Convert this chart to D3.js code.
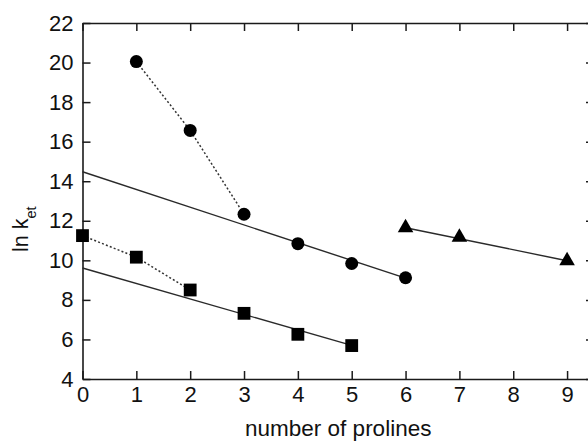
<!DOCTYPE html>
<html>
<head>
<meta charset="utf-8">
<script src="https://cdn.jsdelivr.net/npm/d3@7"></script>
<style>
  html, body { margin: 0; padding: 0; background: #fff; }
  svg { display: block; }
  text { font-family: "Liberation Sans", Arial, Helvetica, sans-serif; fill: #111; }
</style>
</head>
<body>
<svg id="chart" width="588" height="442"></svg>
<script>
// Number of prolines in the bridge vs. ln k_et
const circleX = [1, 2, 3, 4, 5, 6];
const circleY = [20.05, 16.57, 12.33, 10.84, 9.84, 9.12];
const squareX = [0, 1, 2, 3, 4, 5];
const squareY = [11.25, 10.16, 8.5, 7.32, 6.26, 5.69];
const triangleX = [6, 7, 9];
const triangleY = [11.65, 11.17, 9.98];

// Points joined by dotted lines (short bridges)
const circleDottedX = [1, 2, 3];
const squareDottedX = [0, 1, 2];

// Straight-line fits: [x, y] end points
const circleFit = [[0, 14.48], [6, 9.1]];
const squareFit = [[0, 9.61], [5, 5.7]];
const triangleFit = [[6, 11.65], [9, 9.98]];

const xTicks = [0, 1, 2, 3, 4, 5, 6, 7, 8, 9];
const yTicks = [4, 6, 8, 10, 12, 14, 16, 18, 20, 22];

const svg = d3.select("#chart");
const plotL = 82.5, plotR = 594, plotT = 23, plotB = 379;

const x = d3.scaleLinear().domain([0, 9.5]).range([plotL, plotR]);
const y = d3.scaleLinear().domain([4, 22]).range([plotB, plotT]);

const ink = "#1a1a1a";
const tickLen = 8;

// Frame with inward ticks on all four sides
function styleAxis(g) {
  g.selectAll(".domain").attr("stroke", ink).attr("stroke-width", 1.6);
  g.selectAll(".tick line").attr("stroke", ink).attr("stroke-width", 1.5);
  g.selectAll(".tick text")
    .attr("font-family", '"Liberation Sans", Arial, Helvetica, sans-serif')
    .attr("font-size", 22).attr("fill", "#111");
}

svg.append("g").attr("transform", `translate(0,${plotB})`)
  .call(d3.axisBottom(x).tickValues(xTicks).tickFormat(d3.format("d"))
    .tickSizeInner(-tickLen).tickSizeOuter(0))
  .call(styleAxis)
  .call(g => g.selectAll(".tick text").attr("dy", "0.71em").attr("y", 7));

svg.append("g").attr("transform", `translate(0,${plotT})`)
  .call(d3.axisTop(x).tickValues(xTicks).tickFormat("")
    .tickSizeInner(-tickLen).tickSizeOuter(0))
  .call(styleAxis);

svg.append("g").attr("transform", `translate(${plotL},0)`)
  .call(d3.axisLeft(y).tickValues(yTicks).tickFormat(d3.format("d"))
    .tickSizeInner(-tickLen).tickSizeOuter(0))
  .call(styleAxis)
  .call(g => g.selectAll(".tick text").attr("x", -9));

svg.append("g").attr("transform", `translate(${plotR},0)`)
  .call(d3.axisRight(y).tickValues(yTicks).tickFormat("")
    .tickSizeInner(-tickLen).tickSizeOuter(0))
  .call(styleAxis);

// Fit lines
const line = d3.line().x(d => x(d[0])).y(d => y(d[1]));
[circleFit, squareFit, triangleFit].forEach(seg => {
  svg.append("path").datum(seg).attr("d", line)
    .attr("fill", "none").attr("stroke", "#2a2a2a").attr("stroke-width", 1.4);
});

// Dotted connectors
function dotted(xs, ys, keep) {
  const pts = xs.map((v, i) => [v, ys[i]]).filter(p => keep.includes(p[0]));
  svg.append("path").datum(pts).attr("d", line)
    .attr("fill", "none").attr("stroke", "#333").attr("stroke-width", 1.5)
    .attr("stroke-dasharray", "2,2.2");
}
dotted(circleX, circleY, circleDottedX);
dotted(squareX, squareY, squareDottedX);

// Markers
svg.append("g").selectAll("circle").data(circleX.map((v, i) => [v, circleY[i]]))
  .join("circle")
  .attr("cx", d => x(d[0])).attr("cy", d => y(d[1])).attr("r", 6.5)
  .attr("fill", "#000");

const sq = 12.8;
svg.append("g").selectAll("rect").data(squareX.map((v, i) => [v, squareY[i]]))
  .join("rect")
  .attr("x", d => x(d[0]) - sq / 2).attr("y", d => y(d[1]) - sq / 2)
  .attr("width", sq).attr("height", sq).attr("fill", "#000");

const tri = d3.symbol().type(d3.symbolTriangle).size(105);
svg.append("g").selectAll("path").data(triangleX.map((v, i) => [v, triangleY[i]]))
  .join("path")
  .attr("transform", d => `translate(${x(d[0])},${y(d[1])})`)
  .attr("d", tri).attr("fill", "#000");

// Axis titles
svg.append("text")
  .attr("x", (plotL + plotR) / 2).attr("y", 436)
  .attr("text-anchor", "middle").attr("font-size", 22.5)
  .text("number of prolines");

const yl = svg.append("text")
  .attr("transform", "translate(27.5,252) rotate(-90)")
  .attr("text-anchor", "start").attr("font-size", 21.5);
yl.append("tspan").text("ln k");
yl.append("tspan").attr("font-size", 14.5).attr("dy", 8).text("et");
</script>
</body>
</html>
